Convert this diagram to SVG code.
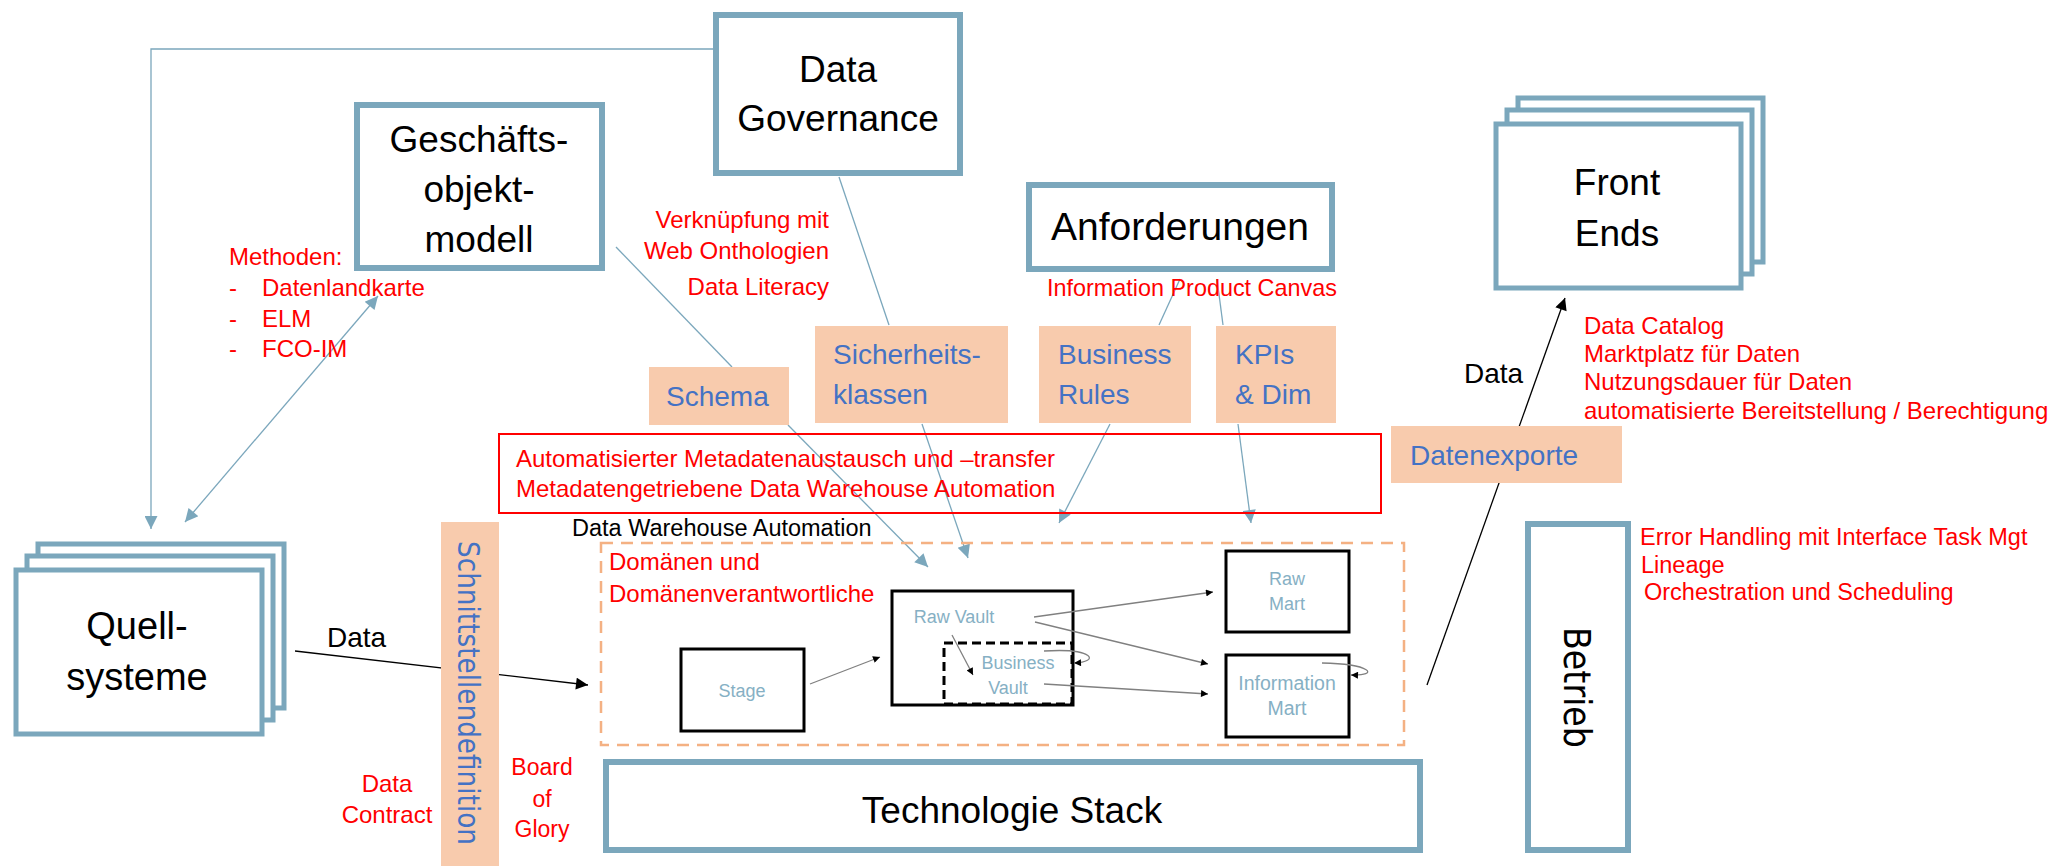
<svg xmlns="http://www.w3.org/2000/svg" width="2058" height="866" viewBox="0 0 2058 866">
<style>
  .box{fill:#fff;stroke:#7BA7BC;stroke-width:6}
  .stk{fill:#fff;stroke:#7BA7BC;stroke-width:5}
  .peach{fill:#F8CBAD}
  .big{font-family:"Liberation Sans",Arial,sans-serif;font-size:37px;fill:#000;text-anchor:middle}
  .red{font-family:"Liberation Sans",Arial,sans-serif;font-size:24px;fill:#FF0000}
  .blue{font-family:"Liberation Sans",Arial,sans-serif;font-size:28px;fill:#4472C4}
  .lb{font-family:"Liberation Sans",Arial,sans-serif;font-size:18px;fill:#86B0C4;text-anchor:middle}
  .blk{font-family:"Liberation Sans",Arial,sans-serif;fill:#000}
  .inner{fill:#fff;stroke:#000;stroke-width:3}
  .bl{fill:none;stroke:#7BA7BC;stroke-width:1.3}
  .gl{fill:none;stroke:#808080;stroke-width:1.3}
  .kl{fill:none;stroke:#000;stroke-width:1.3}
</style>
<defs>
  <marker id="ba" viewBox="0 0 10 10" refX="10" refY="5" markerWidth="16" markerHeight="13" markerUnits="userSpaceOnUse" orient="auto-start-reverse"><path d="M0,0 L10,5 L0,10 z" fill="#7BA7BC"/></marker>
  <marker id="ka" viewBox="0 0 10 10" refX="10" refY="5" markerWidth="16" markerHeight="12" markerUnits="userSpaceOnUse" orient="auto"><path d="M0,0 L10,5 L0,10 z" fill="#000"/></marker>
  <marker id="sa" viewBox="0 0 10 10" refX="10" refY="5" markerWidth="8" markerHeight="7" markerUnits="userSpaceOnUse" orient="auto"><path d="M0,0 L10,5 L0,10 z" fill="#000"/></marker>
</defs>

<g id="connectors">
  <path class="bl" d="M713,49 H151 V529" marker-end="url(#ba)"/>
  <path class="bl" d="M185,522 L378,296" marker-start="url(#ba)" marker-end="url(#ba)"/>
  <path class="bl" d="M616,247 L732,367"/>
  <path class="bl" d="M839,177 L889,325"/>
  <path class="bl" d="M1180,279 L1159,325"/>
  <path class="bl" d="M1217,279 L1223,325"/>
  <path class="bl" d="M788,425 L928,567" marker-end="url(#ba)"/>
  <path class="bl" d="M922,424 L968,558" marker-end="url(#ba)"/>
  <path class="bl" d="M1110,424 L1059,523" marker-end="url(#ba)"/>
  <path class="bl" d="M1238,424 L1251,523" marker-end="url(#ba)"/>
  <path class="kl" d="M295,651 L588,685" marker-end="url(#ka)"/>
  <path class="kl" d="M1427,685 L1565,298" marker-end="url(#ka)"/>
</g>

<g id="data-governance">
  <rect class="box" x="716" y="15" width="244" height="158"/>
  <text class="big" x="838" y="82">Data</text>
  <text class="big" x="838" y="131">Governance</text>
</g>

<g id="geschaeftsobjektmodell">
  <rect class="box" x="357" y="105" width="245" height="163"/>
  <text class="big" x="479" y="152">Geschäfts-</text>
  <text class="big" x="479" y="202">objekt-</text>
  <text class="big" x="479" y="252">modell</text>
</g>

<g id="methoden">
  <text class="red" x="229" y="265">Methoden:</text>
  <text class="red" x="229" y="296">-</text><text class="red" x="262" y="296">Datenlandkarte</text>
  <text class="red" x="229" y="327">-</text><text class="red" x="262" y="327">ELM</text>
  <text class="red" x="229" y="357">-</text><text class="red" x="262" y="357">FCO-IM</text>
</g>

<g id="governance-notes">
  <text class="red" x="829" y="228" text-anchor="end">Verknüpfung mit</text>
  <text class="red" x="829" y="259" text-anchor="end">Web Onthologien</text>
  <text class="red" x="829" y="295" text-anchor="end">Data Literacy</text>
</g>

<g id="anforderungen">
  <rect class="box" x="1029" y="185" width="303" height="84"/>
  <text class="big" x="1180" y="240" style="font-size:39px">Anforderungen</text>
  <text class="red" x="1047" y="296" style="font-size:23.4px">Information Product Canvas</text>
</g>

<g id="front-ends">
  <rect class="stk" x="1518" y="98" width="245" height="164"/>
  <rect class="stk" x="1507" y="110" width="245" height="164"/>
  <rect class="stk" x="1496" y="124" width="245" height="164"/>
  <text class="big" x="1617" y="195">Front</text>
  <text class="big" x="1617" y="246">Ends</text>
</g>

<g id="front-end-notes">
  <text class="blk" x="1464" y="383" style="font-size:28px">Data</text>
  <text class="red" x="1584" y="334">Data Catalog</text>
  <text class="red" x="1584" y="362">Marktplatz für Daten</text>
  <text class="red" x="1584" y="390">Nutzungsdauer für Daten</text>
  <text class="red" x="1584" y="419">automatisierte Bereitstellung / Berechtigung</text>
</g>

<g id="schema">
  <rect class="peach" x="649" y="367" width="140" height="58"/>
  <text class="blue" x="666" y="406">Schema</text>
</g>
<g id="sicherheitsklassen">
  <rect class="peach" x="815" y="326" width="193" height="97"/>
  <text class="blue" x="833" y="364">Sicherheits-</text>
  <text class="blue" x="833" y="404">klassen</text>
</g>
<g id="business-rules">
  <rect class="peach" x="1039" y="326" width="152" height="97"/>
  <text class="blue" x="1058" y="364">Business</text>
  <text class="blue" x="1058" y="404">Rules</text>
</g>
<g id="kpis">
  <rect class="peach" x="1216" y="326" width="120" height="97"/>
  <text class="blue" x="1235" y="364">KPIs</text>
  <text class="blue" x="1235" y="404">&amp; Dim</text>
</g>
<g id="datenexporte">
  <rect class="peach" x="1391" y="426" width="231" height="57"/>
  <text class="blue" x="1410" y="465">Datenexporte</text>
</g>

<g id="metadaten">
  <rect x="499" y="434" width="882" height="79" fill="none" stroke="#FF0000" stroke-width="2"/>
  <text class="red" x="516" y="467">Automatisierter Metadatenaustausch und –transfer</text>
  <text class="red" x="516" y="497">Metadatengetriebene Data Warehouse Automation</text>
</g>

<g id="quellsysteme">
  <rect class="stk" x="38" y="544" width="246" height="164"/>
  <rect class="stk" x="27" y="556" width="246" height="164"/>
  <rect class="stk" x="16" y="570" width="246" height="164"/>
  <text class="big" x="137" y="639" style="font-size:38px">Quell-</text>
  <text class="big" x="137" y="690" style="font-size:38px">systeme</text>
  <text class="blk" x="327" y="647" style="font-size:28px">Data</text>
</g>

<g id="schnittstellendefinition">
  <rect class="peach" x="441" y="522" width="58" height="344"/>
  <text x="469" y="541" transform="rotate(90 469 541)" font-family="DejaVu Sans,sans-serif" font-size="31" fill="#4472C4" textLength="304" lengthAdjust="spacingAndGlyphs" dy="11">Schnittstellendefinition</text>
  <text class="red" x="387" y="792" text-anchor="middle">Data</text>
  <text class="red" x="387" y="823" text-anchor="middle">Contract</text>
  <text class="red" x="542" y="775" text-anchor="middle" style="font-size:23px">Board</text>
  <text class="red" x="542" y="807" text-anchor="middle" style="font-size:23px">of</text>
  <text class="red" x="542" y="837" text-anchor="middle" style="font-size:23px">Glory</text>
</g>

<g id="dwa">
  <text class="blk" x="572" y="536" style="font-size:23.5px">Data Warehouse Automation</text>
  <rect x="601" y="543" width="803" height="202" fill="none" stroke="#F4B183" stroke-width="2.5" stroke-dasharray="12 8"/>
  <text class="red" x="609" y="570">Domänen und</text>
  <text class="red" x="609" y="602">Domänenverantwortliche</text>
</g>

<g id="stage">
  <rect class="inner" x="681" y="649" width="123" height="82"/>
  <text class="lb" x="742" y="697">Stage</text>
</g>
<g id="raw-vault">
  <rect class="inner" x="892" y="591" width="181" height="114"/>
  <text class="lb" x="954" y="623">Raw Vault</text>
</g>
<g id="business-vault">
  <rect x="944" y="643" width="128" height="61" fill="none" stroke="#000" stroke-width="3" stroke-dasharray="9 5"/>
  <text class="lb" x="1018" y="669">Business</text>
  <text class="lb" x="1008" y="694">Vault</text>
</g>
<g id="raw-mart">
  <rect class="inner" x="1226" y="551" width="123" height="81"/>
  <text class="lb" x="1287" y="585">Raw</text>
  <text class="lb" x="1287" y="610">Mart</text>
</g>
<g id="information-mart">
  <rect class="inner" x="1226" y="655" width="123" height="82"/>
  <text class="lb" x="1287" y="690" style="font-size:19.5px">Information</text>
  <text class="lb" x="1287" y="715" style="font-size:19.5px">Mart</text>
</g>

<g id="dwa-connectors">
  <path class="gl" d="M810,684 L880,657" marker-end="url(#sa)"/>
  <path class="gl" d="M952,635 L973,675" marker-end="url(#sa)"/>
  <path class="gl" d="M1034,617 L1213,592" marker-end="url(#sa)"/>
  <path class="gl" d="M1035,622 L1208,664" marker-end="url(#sa)"/>
  <path class="gl" d="M1044,684 L1208,694" marker-end="url(#sa)"/>
  <path class="gl" d="M1044,651 C1095,648 1100,662 1074,663" marker-end="url(#sa)"/>
  <path class="gl" d="M1322,663 C1372,664 1380,676 1351,675" marker-end="url(#sa)"/>
</g>

<g id="technologie-stack">
  <rect class="box" x="606" y="762" width="814" height="88"/>
  <text class="big" x="1012" y="823">Technologie Stack</text>
</g>

<g id="betrieb">
  <rect class="box" x="1528" y="524" width="100" height="326"/>
  <text x="1577" y="627" transform="rotate(90 1577 627)" font-family="DejaVu Sans,sans-serif" font-size="37" fill="#000" textLength="121" lengthAdjust="spacingAndGlyphs" dy="13">Betrieb</text>
  <text class="red" x="1640" y="545" style="font-size:23.5px">Error Handling mit Interface Task Mgt</text>
  <text class="red" x="1641" y="573" style="font-size:23.5px">Lineage</text>
  <text class="red" x="1644" y="600" style="font-size:23.5px">Orchestration und Scheduling</text>
</g>
</svg>
